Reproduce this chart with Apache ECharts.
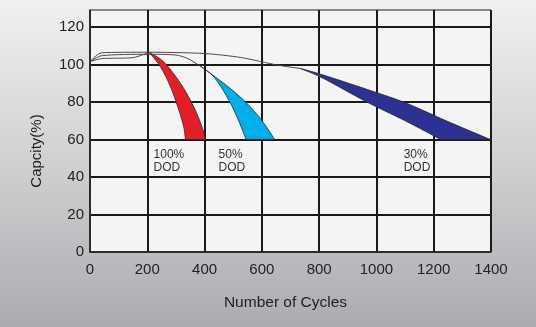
<!DOCTYPE html>
<html>
<head>
<meta charset="utf-8">
<script src="https://cdn.jsdelivr.net/npm/echarts@6/dist/echarts.min.js"></script>
<style>
  html, body { margin: 0; padding: 0; }
  #chart { width: 536px; height: 327px; }
</style>
</head>
<body>
<div id="chart"></div>
<script>
// Capacity (%) against number of cycles before each curve starts to fade
const line100 = [[0, 101.5], [40, 103.1], [150, 103.6], [207, 106.3]];
const line50 = [[0, 101.5], [40, 104.6], [200, 105.4], [300, 105], [340, 103.2], [385, 99.1]];
const line30 = [[0, 101.5], [40, 106.2], [200, 106.5], [400, 105.8], [526, 103.7], [656, 99.6], [735, 97.8]];

// End-of-life spread: earliest and latest fade edge, both ending at 60 %
const band100Early = [[207, 106.3], [246, 98.7], [281, 88.1], [310, 75.7], [327, 66.8], [333, 60]];
const band100Late = [[207, 106.3], [257, 101.4], [316, 89.9], [362, 77.4], [391, 66.8], [403, 60]];
const band50Early = [[385, 99.1], [432, 93.4], [478, 82.8], [513, 72.1], [545, 60]];
const band50Late = [[385, 99.1], [467, 89.9], [536, 81], [594, 71.3], [645, 60]];
const band30Early = [[735, 97.8], [815, 92.5], [966, 80], [1100, 70], [1224, 60]];
const band30Late = [[735, 97.8], [815, 94.3], [1000, 85], [1110, 79], [1250, 69.5], [1397, 60]];

// Depth-of-discharge captions and where they sit (cycles, capacity %)
const dodTexts = ['100%\nDOD', '50%\nDOD', '30%\nDOD'];
const dodAnchors = [[222, 55.5], [449, 55.5], [1095, 55.5]];

const bandList = [
  { early: band100Early, late: band100Late },
  { early: band50Early, late: band50Late },
  { early: band30Early, late: band30Late }
];
const bandColors = ['#e21f26', '#00aeea', '#2e3192'];

// Catmull-Rom curve through pixel points, as cubic Bezier path commands
function curveThrough(pts) {
  let s = '';
  for (let i = 0; i < pts.length - 1; i++) {
    const p0 = pts[i - 1] || pts[i];
    const p1 = pts[i];
    const p2 = pts[i + 1];
    const p3 = pts[i + 2] || p2;
    const c1 = [p1[0] + (p2[0] - p0[0]) / 6, p1[1] + (p2[1] - p0[1]) / 6];
    const c2 = [p2[0] - (p3[0] - p1[0]) / 6, p2[1] - (p3[1] - p1[1]) / 6];
    s += ' C ' + c1[0] + ' ' + c1[1] + ' ' + c2[0] + ' ' + c2[1] + ' ' + p2[0] + ' ' + p2[1];
  }
  return s;
}

const font = '"Liberation Sans", Arial, sans-serif';
const ink = '#222';

const chart = echarts.init(document.getElementById('chart'), null, { renderer: 'canvas' });

const curveStyle = { color: '#4a4a4a', width: 1 };

chart.setOption({
  animation: false,
  backgroundColor: {
    type: 'linear', x: 0, y: 0, x2: 0, y2: 1,
    colorStops: [
      { offset: 0, color: '#f1f1f1' },
      { offset: 0.5, color: '#cfd0d1' },
      { offset: 1, color: '#abacb0' }
    ]
  },
  grid: {
    left: 90, right: 45, top: 10, bottom: 75,
    show: true, backgroundColor: '#f4f4f4', borderColor: '#777', borderWidth: 1,
    containLabel: false, outerBoundsMode: 'none'
  },
  xAxis: {
    type: 'value', min: 0, max: 1400, interval: 200,
    name: 'Number of Cycles', nameLocation: 'middle', nameGap: 43,
    nameTextStyle: { fontFamily: font, fontSize: 15.5, color: ink, padding: [0, 10, 0, 0] },
    axisLine: { show: true, lineStyle: { color: '#333', width: 1.5 } },
    axisTick: { show: false },
    axisLabel: { fontFamily: font, fontSize: 15, color: ink, margin: 10, formatter: v => String(v) },
    splitLine: { show: true, lineStyle: { color: '#1a1a1a', width: 2 } }
  },
  yAxis: {
    type: 'value', min: 0, max: 129, interval: 20,
    name: 'Capcity(%)', nameLocation: 'middle', nameGap: 46,
    nameTextStyle: { fontFamily: font, fontSize: 15, color: ink, padding: [0, 40, 0, 0] },
    axisLine: { show: true, lineStyle: { color: '#333', width: 1.5 } },
    axisTick: { show: false },
    axisLabel: { fontFamily: font, fontSize: 15, color: ink, margin: 6, showMaxLabel: false, formatter: v => String(v) },
    splitLine: {
      show: true,
      lineStyle: { color: ['#1a1a1a', '#1a1a1a', '#1a1a1a', '#1a1a1a', '#1a1a1a', '#1a1a1a', '#1a1a1a', '#888'], width: 2 }
    }
  },
  series: [
    { type: 'line', data: line30, showSymbol: false, smooth: 0.25, lineStyle: curveStyle, z: 3 },
    { type: 'line', data: line50, showSymbol: false, smooth: 0.25, lineStyle: curveStyle, z: 3 },
    { type: 'line', data: line100, showSymbol: false, smooth: 0.2, lineStyle: curveStyle, z: 3 },
    {
      type: 'custom',
      z: 4,
      data: bandList.map(b => b.early[0]),
      renderItem(params, api) {
        const b = bandList[params.dataIndex];
        const e = b.early.map(p => api.coord(p));
        const l = b.late.map(p => api.coord(p)).reverse();
        let d = 'M ' + e[0][0] + ' ' + e[0][1] + curveThrough(e);
        d += ' L ' + l[0][0] + ' ' + l[0][1] + curveThrough(l) + ' Z';
        return {
          type: 'path',
          shape: { pathData: d },
          style: { fill: bandColors[params.dataIndex], stroke: '#2a2a2a', lineWidth: 0.8 }
        };
      }
    },
    {
      type: 'custom',
      z: 5,
      data: dodAnchors,
      renderItem(params, api) {
        const p = api.coord([api.value(0), api.value(1)]);
        return {
          type: 'text',
          x: p[0], y: p[1],
          style: {
            text: dodTexts[params.dataIndex],
            fill: '#333', font: '12px ' + font, lineHeight: 13,
            align: 'left', verticalAlign: 'top'
          }
        };
      }
    }
  ]
});
</script>
</body>
</html>
